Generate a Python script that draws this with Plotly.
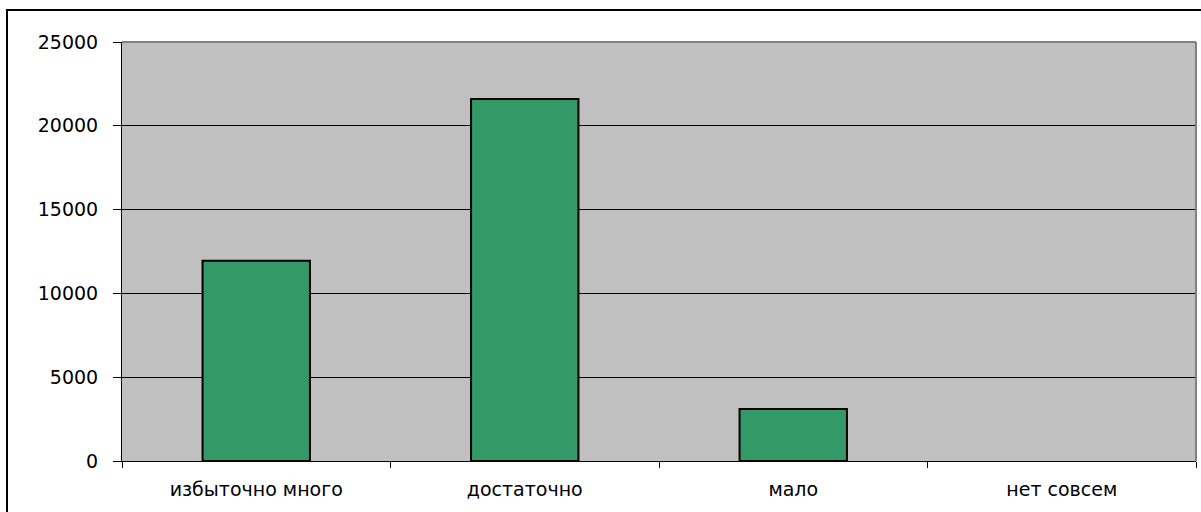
import plotly.graph_objects as go

categories = ["избыточно много", "достаточно", "мало", "нет совсем"]
values = [11950, 21600, 3100, 0]
y_ticks = [0, 5000, 10000, 15000, 20000, 25000]

fig = go.Figure()
fig.add_trace(go.Bar(
    x=categories, y=values,
    marker=dict(color="#339966",
                line=dict(color="#000000", width=[2 if v > 0 else 0 for v in values])),
    width=0.4,
))

font = dict(family="DejaVu Sans, Verdana, sans-serif", size=19, color="#000000")

fig.update_layout(
    width=1201, height=512,
    margin=dict(l=122, r=5, t=42, b=51),
    paper_bgcolor="#FFFFFF",
    plot_bgcolor="#C0C0C0",
    showlegend=False,
    font=font,
    xaxis=dict(
        type="category",
        tickson="boundaries",
        ticks="outside", ticklen=6, tickcolor="#000000", tickwidth=1,
        showline=True, linecolor="#000000", linewidth=1,
        showgrid=False,
        tickfont=font,
        ticklabelstandoff=11,
        range=[-0.5, 3.5],
    ),
    yaxis=dict(
        range=[0, 25000],
        tickvals=y_ticks,
        ticktext=[str(v) for v in y_ticks],
        ticks="outside", ticklen=8, tickcolor="#000000", tickwidth=1,
        showline=True, linecolor="#000000", linewidth=1,
        showgrid=True, gridcolor="#000000", gridwidth=1,
        zeroline=False,
        tickfont=font,
        ticklabelstandoff=11,
    ),
    shapes=[
        dict(type="line", xref="paper", yref="paper", x0=0, x1=1, y0=1, y1=1,
             line=dict(color="#808080", width=2)),
        dict(type="line", xref="paper", yref="paper", x0=1, x1=1, y0=0, y1=1,
             line=dict(color="#808080", width=2)),
        dict(type="rect", xref="paper", yref="paper",
             x0=-115 / 1074, x1=1.1, y0=-1.2, y1=1 + 32 / 419,
             line=dict(color="#000000", width=2), layer="above"),
    ],
)

fig.write_html("out.html", config={"displayModeBar": False},
               post_script="document.body.style.margin='0px';")
